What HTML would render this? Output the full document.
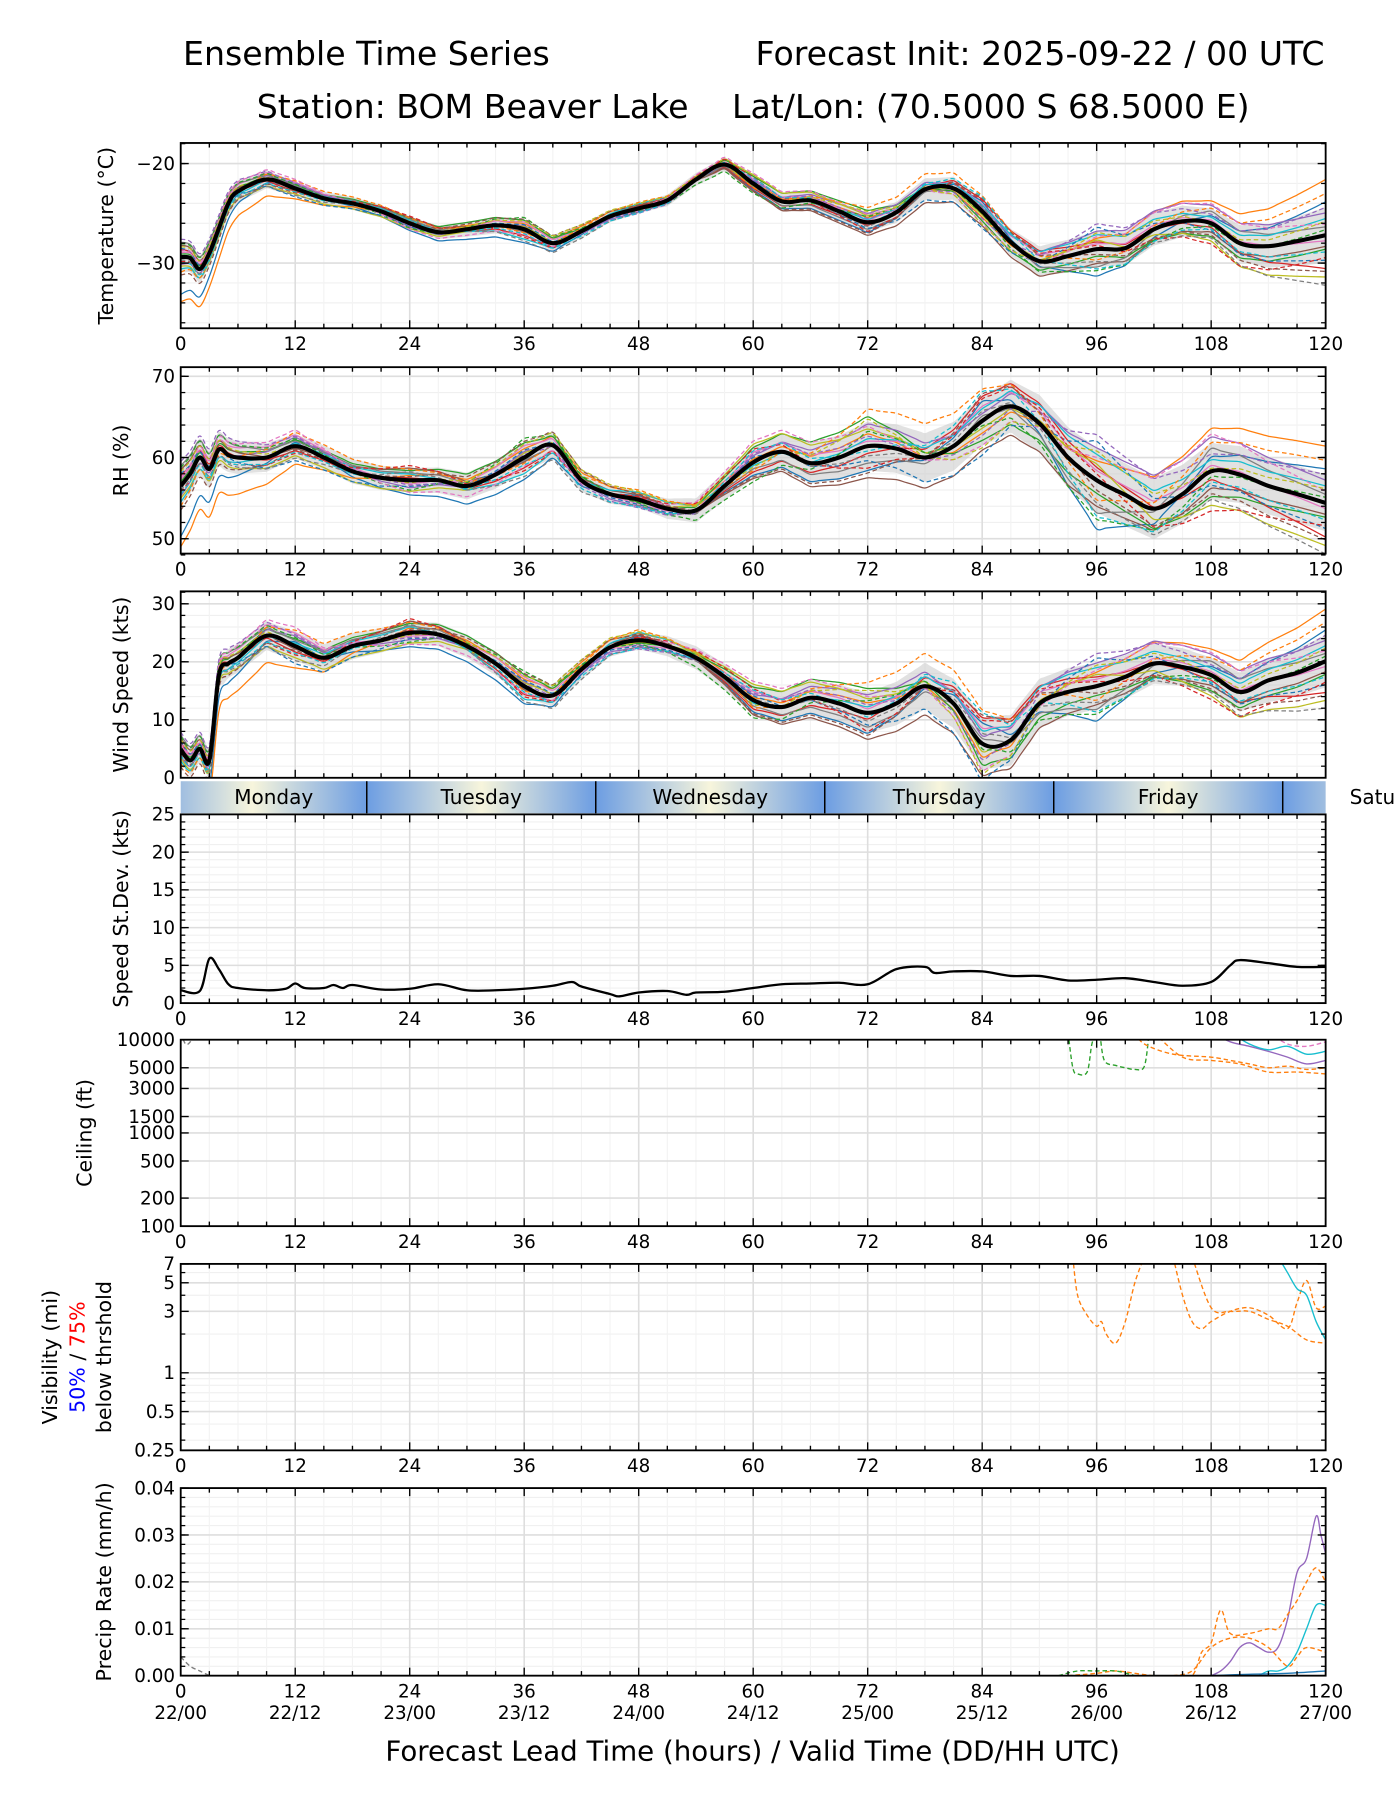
<!DOCTYPE html>
<html><head><meta charset="utf-8"><style>
html,body{margin:0;padding:0;background:#fff;}
svg{display:block;font-family:"DejaVu Sans","Liberation Sans",sans-serif;}
</style></head><body>
<svg id="chart" width="1400" height="1800" viewBox="0 0 1224 1573.7" preserveAspectRatio="none" xmlns="http://www.w3.org/2000/svg">
<defs>
<linearGradient id="dayGrad" gradientUnits="userSpaceOnUse" x1="220.6" y1="0" x2="420.8" y2="0" spreadMethod="repeat">
<stop offset="0" stop-color="#f7f5dc"/><stop offset="0.5" stop-color="#6c9de2"/><stop offset="1" stop-color="#f7f5dc"/>
</linearGradient>
</defs>
<text x="160" y="57" font-size="29">Ensemble Time Series</text>
<text x="1158" y="57" font-size="29" text-anchor="end">Forecast Init: 2025-09-22 / 00 UTC</text>
<text x="602" y="103" font-size="29" text-anchor="end">Station: BOM Beaver Lake</text>
<text x="640" y="103" font-size="29">Lat/Lon: (70.5000 S 68.5000 E)</text>
<g id="plots"></g>
</svg>
<script>
// ---------- data ----------
const meanHours = [0,1,2,3,4,5,6,9,12,15,18,21,24,27,30,33,36,39,42,45,48,51,54,57,60,63,66,69,72,75,78,81,84,87,90,93,96,99,102,105,108,111,114,117,120];
const tempMean = [-29.4,-29.5,-30.6,-29.0,-26.5,-24.0,-22.8,-21.6,-22.5,-23.5,-24.0,-24.8,-26.0,-26.9,-26.6,-26.2,-26.6,-28.0,-26.8,-25.3,-24.5,-23.7,-21.6,-20.1,-22.0,-23.8,-23.7,-24.8,-25.9,-24.9,-22.6,-22.5,-24.8,-27.9,-29.8,-29.3,-28.6,-28.5,-26.6,-25.8,-26.0,-28.0,-28.3,-27.8,-27.2];
const rhMean = [56.5,58,60,58.6,61,60.3,60,60,61.4,60,58.3,57.5,57.2,57.2,56.5,57.9,60,61.5,57.2,55.5,54.8,53.7,53.5,56.5,59.4,60.7,59.3,60,61.4,61.1,60,61.4,64.5,66.3,64.2,60,57.2,55.4,53.7,55.5,58.3,57.9,56.5,55.5,54.4];
const windMean = [4.9,3,5,3,17.7,19.7,20.7,24.5,22.7,20.7,22.7,23.7,25,24.7,22.7,19.7,15.8,14.2,18.7,22.5,23.7,22.7,20.7,17.4,13.4,12.2,13.8,12.8,11.2,12.8,15.8,12.8,5.9,6.5,12.8,14.8,15.8,17.4,19.7,19.1,17.7,14.8,16.8,18.1,20.1];
const spreadHours = [0,12,24,36,48,60,72,84,96,108,120];
const tempSpread = [1.5,0.7,0.6,0.9,0.5,0.8,1.0,1.2,1.8,1.5,2.8];
const rhSpread = [2.5,1.5,1.5,1.8,1.0,2.0,3.0,3.0,4.0,3.5,3.5];
const windSpread = [2.5,2.5,2.0,2.0,1.5,2.5,3.5,4.5,4.0,3.0,4.5];
const memberDev = [
[-2.5,0.3,-1.2,-1.5,0.5,-0.8,-1.0,0.8,-1.5,0.5,1.2],
[-3,-1.5,0.4,0.6,0.8,0.2,0.5,-0.5,0.6,1.5,2.0],
[0.2,0.5,0.8,1.0,-0.3,0.9,1.2,-0.8,-0.4,-0.9,-0.5],
[0.5,-0.4,0.2,-0.7,0.3,-0.6,-0.3,1.0,0.4,-0.3,-1.2],
[-0.5,0.7,-0.6,0.4,-0.8,0.4,0.9,0.3,1.0,1.2,0.8],
[0.8,-0.2,1.0,-0.3,0.6,-1.0,-1.3,-1.2,-0.8,-0.6,-0.4],
[0.3,0.9,-0.3,0.8,-0.5,0.6,0.2,0.6,0.3,0.2,-0.2],
[1.0,0.4,0.6,-0.2,0.2,-0.4,-0.7,0.2,-1.0,0.8,0.3],
[-0.6,-0.8,-0.9,0.3,-0.2,1.1,0.7,-0.3,0.5,-1.2,-1.5],
[-0.8,0.2,0.5,-1.1,0.9,-0.2,0.3,0.5,0.8,0.4,0.6],
[0.6,-1.2,-0.5,0.5,-0.6,0.3,-0.6,-1.4,1.2,-0.5,-0.9],
[-1.0,1.1,0.9,-0.4,1.2,-0.5,1.5,1.3,-0.6,1.0,1.5],
[0.9,0.6,-0.8,1.3,-0.4,-1.2,0.6,-0.2,-1.2,-0.2,0.2],
[-0.3,-0.6,1.2,-0.9,0.4,0.8,-0.9,0.9,0.2,-1.4,-0.8],
[1.2,0.8,-0.4,0.2,-1.0,0.5,0.4,-0.6,1.4,0.6,1.0],
[-1.2,-0.3,0.3,1.1,0.7,-0.9,-1.1,1.1,-0.3,-0.8,-1.3],
[0.4,1.3,-1.0,-0.6,0.1,1.3,0.8,-1.0,0.7,1.3,0.4],
[-0.2,-1.0,0.7,-1.3,-0.7,0.1,-0.4,0.4,-0.7,-1.0,-1.8],
[0.7,0.1,-0.2,0.9,1.0,-0.3,1.1,-1.1,0.9,0.1,0.5],
[-0.4,-0.5,0.1,-0.5,-0.9,0.7,-0.2,1.2,-1.1,-0.4,-0.6]];
const sdHours = [0,2,3,4,5,6,9,11,12,13,15,16,17,18,21,24,27,30,33,36,39,41,42,45,46,48,51,53,54,57,60,63,66,69,72,75,78,79,81,84,87,90,93,96,99,102,105,108,110,111,114,117,120];
const sdValues = [1.7,1.6,5.9,4.5,2.5,2.0,1.7,1.9,2.6,2.0,2.0,2.4,2.0,2.4,1.8,1.9,2.5,1.7,1.7,1.9,2.3,2.8,2.2,1.2,0.9,1.4,1.6,1.1,1.4,1.5,2.0,2.5,2.6,2.7,2.5,4.5,4.8,4.0,4.2,4.2,3.6,3.6,3.0,3.1,3.3,2.8,2.3,2.8,5.0,5.7,5.3,4.8,4.8];
const ceilSeries = [
 {c:"#2ca02c",d:true,h:[93,93.5,94,95,95.5,96,96.3,96.8,98,99,100,101,101.5],v:[12000,5000,4300,4500,9000,12000,12000,6000,5300,5000,4800,5200,12000]},
 {c:"#ff7f0e",d:true,h:[100,101,104,108,110,112,114,116,118,120],v:[12000,9000,7000,6500,6000,5500,5000,5200,4800,5000]},
 {c:"#ff7f0e",d:true,h:[102,105,108,111,114,117,120],v:[12000,6500,6000,5500,4500,4500,4300]},
 {c:"#9467bd",d:false,h:[108,110,112,114,116,118,120],v:[12000,9500,8500,7500,6500,5500,6000]},
 {c:"#17becf",d:false,h:[110,112,114,116,118,120],v:[12000,9000,7800,8500,7000,7500]},
 {c:"#e377c2",d:true,h:[114,116,118,120],v:[12000,9000,8500,9500]},
 {c:"#7f7f7f",d:true,h:[0,0.5,1,1.5],v:[12000,9000,9500,12000]}];
const visSeries = [
 {c:"#ff7f0e",d:true,h:[93.5,94,95,96,96.5,97,98,99,100,101],v:[8,4,2.8,2.3,2.5,2.0,1.7,2.5,5,8]},
 {c:"#ff7f0e",d:true,h:[104,105,106,107,108,110,112,114,116,117,118,119,120],v:[8,4,2.5,2.2,2.5,3.0,3.2,2.8,2.2,3.5,5.2,3.2,3.3]},
 {c:"#ff7f0e",d:true,h:[106,108,110,112,114,116,118,120],v:[8,3.2,3,3,2.6,2.3,1.8,1.7]},
 {c:"#17becf",d:false,h:[115,116,117,118,119,120],v:[8,6,4.5,4,2.5,1.8]}];
const precipSeries = [
 {c:"#9467bd",d:false,h:[108,109,110,111,112,113,114,115,116,117,118,119,119.5,120],v:[0,0.001,0.003,0.006,0.007,0.006,0.005,0.006,0.012,0.022,0.025,0.034,0.03,0.026]},
 {c:"#ff7f0e",d:true,h:[93,96,98,100,102,104,106,107,108,109,110,112,114,115,116,117,118,119,120],v:[0,0.0005,0.001,0.0005,0,0,0,0.005,0.007,0.014,0.009,0.009,0.01,0.01,0.013,0.016,0.02,0.023,0.02]},
 {c:"#ff7f0e",d:true,h:[104,106,108,110,112,114,116,117,118,120],v:[0,0.001,0.006,0.008,0.008,0.006,0.002,0.004,0.006,0.005]},
 {c:"#17becf",d:false,h:[113,114,115,116,117,118,119,120],v:[0,0.001,0.001,0.002,0.005,0.01,0.015,0.015]},
 {c:"#2ca02c",d:true,h:[92,94,96,98,100],v:[0,0.001,0.001,0.001,0]},
 {c:"#1f77b4",d:false,h:[108,112,116,120],v:[0,0.0003,0.0005,0.001]},
 {c:"#7f7f7f",d:true,h:[0,1,2,3],v:[0.004,0.002,0.001,0]}];
const xTicks = [0,12,24,36,48,60,72,84,96,108,120];
const dateLabels = ["22/00","22/12","23/00","23/12","24/00","24/12","25/00","25/12","26/00","26/12","27/00"];
const dayNames = ["Monday","Tuesday","Wednesday","Thursday","Friday"];
const colors = ["#1f77b4","#ff7f0e","#2ca02c","#d62728","#9467bd","#8c564b","#e377c2","#7f7f7f","#bcbd22","#17becf"];

// ---------- helpers ----------
const NS="http://www.w3.org/2000/svg";
const root=document.getElementById("plots");
const X0=158, X1=1159;
const FT=16, FL=18;
const X=h=>X0+h*(X1-X0)/120;
function mk(tag,attrs,parent){const e=document.createElementNS(NS,tag);for(const k in attrs)e.setAttribute(k,attrs[k]);(parent||root).appendChild(e);return e;}
function interp(hs,vs,h){if(h<=hs[0])return vs[0];for(let i=1;i<hs.length;i++){if(h<=hs[i]){const t=(h-hs[i-1])/(hs[i]-hs[i-1]);return vs[i-1]+t*(vs[i]-vs[i-1]);}}return vs[vs.length-1];}
function smooth(pts){if(pts.length<2)return"";let d="M"+pts[0][0].toFixed(2)+","+pts[0][1].toFixed(2);for(let i=0;i<pts.length-1;i++){const p0=pts[Math.max(0,i-1)],p1=pts[i],p2=pts[i+1],p3=pts[Math.min(pts.length-1,i+2)];const c1=[p1[0]+(p2[0]-p0[0])/6,p1[1]+(p2[1]-p0[1])/6],c2=[p2[0]-(p3[0]-p1[0])/6,p2[1]-(p3[1]-p1[1])/6];d+="C"+c1[0].toFixed(2)+","+c1[1].toFixed(2)+" "+c2[0].toFixed(2)+","+c2[1].toFixed(2)+" "+p2[0].toFixed(2)+","+p2[1].toFixed(2);}return d;}
let clipN=0;
function panel(name,top,bot,Y,majors,minors,labels,ylabel,ylabelX,noXLabels){
  const g=mk("g",{});
  
  
  minors.forEach(v=>mk("line",{x1:X0,x2:X1,y1:Y(v),y2:Y(v),stroke:"#f0f0f0","stroke-width":1},g));
  for(let h=0;h<=120;h+=3) if(h%12) mk("line",{x1:X(h),x2:X(h),y1:top,y2:bot,stroke:"#f3f3f3","stroke-width":1},g);
  majors.forEach(v=>mk("line",{x1:X0,x2:X1,y1:Y(v),y2:Y(v),stroke:"#dedede","stroke-width":1.4},g));
  xTicks.forEach(h=>mk("line",{x1:X(h),x2:X(h),y1:top,y2:bot,stroke:"#dedede","stroke-width":1.4},g));
  const id="clip"+(clipN++);
  const cp=mk("clipPath",{id:id},g);mk("rect",{x:X0,y:top,width:X1-X0,height:bot-top},cp);
  const data=mk("g",{"clip-path":"url(#"+id+")"},g);
  const axes=mk("g",{},g);
  mk("rect",{x:X0,y:top,width:X1-X0,height:bot-top,fill:"none",stroke:"#000","stroke-width":1.6},axes);
  for(let h=0;h<=120;h+=3){const L=h%12?4:7;mk("line",{x1:X(h),x2:X(h),y1:bot,y2:bot-L,stroke:"#000","stroke-width":1.2},axes);mk("line",{x1:X(h),x2:X(h),y1:top,y2:top+L,stroke:"#000","stroke-width":1.2},axes);}
  minors.forEach(v=>{mk("line",{x1:X0,x2:X0+4,y1:Y(v),y2:Y(v),stroke:"#000","stroke-width":1.1},axes);mk("line",{x1:X1,x2:X1-4,y1:Y(v),y2:Y(v),stroke:"#000","stroke-width":1.1},axes);});
  majors.forEach((v,i)=>{mk("line",{x1:X0,x2:X0+7,y1:Y(v),y2:Y(v),stroke:"#000","stroke-width":1.2},axes);mk("line",{x1:X1,x2:X1-7,y1:Y(v),y2:Y(v),stroke:"#000","stroke-width":1.2},axes);
    const t=mk("text",{x:X0-5,y:Y(v)+5.5,"font-size":FT,"text-anchor":"end"},axes);t.textContent=labels[i];
    
    });
  if(!noXLabels) xTicks.forEach(h=>{const t=mk("text",{x:X(h),y:bot+19,"font-size":FT,"text-anchor":"middle"},axes);t.textContent=h;
    
    });
  if(ylabel){const cy=(top+bot)/2;const t=mk("text",{x:ylabelX,y:cy,"font-size":FL,"text-anchor":"middle",transform:"rotate(-90 "+ylabelX+" "+cy+")"},axes);t.textContent=ylabel;
    
    }
  return data;
}
function ensemble(data,Y,mean,spread){
  const fine=[];for(let h=0;h<=120;h+=0.5)fine.push(h);
  const up=fine.map(h=>[X(h),Y(interp(meanHours,mean,h)+interp(spreadHours,spread,h))]);
  const dn=fine.map(h=>[X(h),Y(interp(meanHours,mean,h)-interp(spreadHours,spread,h))]).reverse();
  const band=mk("path",{d:smooth(up)+"L"+smooth(dn).slice(1)+"Z",fill:"#c8c8c8","fill-opacity":0.55,stroke:"none"},data);
  
  
  memberDev.forEach((dev,m)=>{
    const pts=fine.filter((h,i)=>i%2==0).map(h=>[X(h),Y(interp(meanHours,mean,h)+interp(spreadHours,spread,h)*interp(spreadHours,dev,h))]);
    const p=mk("path",{d:smooth(pts),fill:"none",stroke:colors[m%10],"stroke-width":1.1,"stroke-dasharray":m>=10?"4,2.5":"none"},data);
    
    
  });
  const mp=mk("path",{d:smooth(meanHours.map((h,i)=>[X(h),Y(mean[i])])),fill:"none",stroke:"#000","stroke-width":3.6,"stroke-linejoin":"round"},data);
  
  
}
function series(data,Y,list){list.forEach(s=>{const p=mk("path",{d:smooth(s.h.map((h,i)=>[X(h),Y(s.v[i])])),fill:"none",stroke:s.c,"stroke-width":1.2,"stroke-dasharray":s.d?"4,2.5":"none"},data);
  
  });}
const rng=(a,b,s)=>{const r=[];for(let v=a;v<=b+1e-9;v+=s)r.push(+v.toFixed(6));return r;};

// Temperature
{const top=125,bot=287,Y=v=>143+(-20-v)*8.7;
 const d=panel("temperature",top,bot,Y,[-20,-30],rng(-36,-18,2),["\u221220","\u221230"],"Temperature (\u00b0C)",99);
 ensemble(d,Y,tempMean,tempSpread);}
// RH
{const top=321,bot=484,Y=v=>400-(v-60)*7.1;
 const d=panel("rh",top,bot,Y,[50,60,70],rng(48,70,2),["50","60","70"],"RH (%)",112);
 ensemble(d,Y,rhMean,rhSpread);}
// Wind
{const top=517,bot=680,Y=v=>680-v*5.07;
 const d=panel("wind",top,bot,Y,[0,10,20,30],rng(0,32,2),["0","10","20","30"],"Wind Speed (kts)",112,true);
 ensemble(d,Y,windMean,windSpread);}
// Day band
{const g=mk("g",{});
 mk("rect",{x:X0,y:683,width:X1-X0,height:28,fill:"url(#dayGrad)"},g);
 [19.5,43.5,67.5,91.5,115.5].forEach(h=>mk("line",{x1:X(h),x2:X(h),y1:683,y2:711,stroke:"#000","stroke-width":1.3},g));
 const starts=[0,19.5,43.5,67.5,91.5];
 dayNames.forEach((n,i)=>{const t=mk("text",{x:(X(starts[i])+X(i<4?starts[i+1]:115.5))/2,y:703,"font-size":17.5,"text-anchor":"middle"},g);t.textContent=n;
  });
 const t=mk("text",{x:1180,y:703,"font-size":17.5},g);t.textContent="Satu";
 }
// Speed st dev
{const top=712,bot=877,Y=v=>877-v*6.6;
 const d=panel("speed-stdev",top,bot,Y,[0,5,10,15,20,25],rng(0,25,1),["0","5","10","15","20","25"],"Speed St.Dev. (kts)",112);
 const p=mk("path",{d:smooth(sdHours.map((h,i)=>[X(h),Y(sdValues[i])])),fill:"none",stroke:"#000","stroke-width":2},d);
 }
// Ceiling
{const top=909,bot=1072,Y=v=>1072-(Math.log10(v)-2)*81.5;
 const ticks=[100,200,500,1000,1500,3000,5000,10000];
 const d=panel("ceiling",top,bot,Y,ticks,[],ticks.map(String),"Ceiling (ft)",80);
 series(d,Y,ceilSeries);}
// Visibility
{const top=1105,bot=1268,Y=v=>1268-Math.log10(v/0.25)*112.6;
 const ticks=[0.25,0.5,1,3,5,7];
 const d=panel("visibility",top,bot,Y,ticks,[0.3,0.4,0.6,0.7,0.8,0.9,2,4,6],["0.25","0.5","1","3","5","7"],null,0);
 series(d,Y,visSeries);
 const cy=(top+bot)/2;
 const l1=mk("text",{x:50,y:cy,"font-size":FL,"text-anchor":"middle",transform:"rotate(-90 50 "+cy+")"});l1.textContent="Visibility (mi)";
 
 const l2=mk("text",{x:74,y:cy,"font-size":FL,"text-anchor":"middle",transform:"rotate(-90 74 "+cy+")"});
 l2.innerHTML='<tspan fill="#0000ff">50%</tspan> / <tspan fill="#ff0000">75%</tspan>';
 
 const l3=mk("text",{x:97,y:cy,"font-size":FL,"text-anchor":"middle",transform:"rotate(-90 97 "+cy+")"});l3.textContent="below thrshold";
 }
// Precip
{const top=1301,bot=1465,Y=v=>1465-v*4100;
 const d=panel("precip",top,bot,Y,[0,0.01,0.02,0.03,0.04],rng(0,0.04,0.002),["0.00","0.01","0.02","0.03","0.04"],"Precip Rate (mm/h)",97);
 series(d,Y,precipSeries);
 xTicks.forEach((h,i)=>{const t=mk("text",{x:X(h),y:1503,"font-size":FT,"text-anchor":"middle"});t.textContent=dateLabels[i];
  });
 const t=mk("text",{x:658,y:1539,"font-size":24.2,"text-anchor":"middle"});t.textContent="Forecast Lead Time (hours) / Valid Time (DD/HH UTC)";
 }
</script>
</body></html>
